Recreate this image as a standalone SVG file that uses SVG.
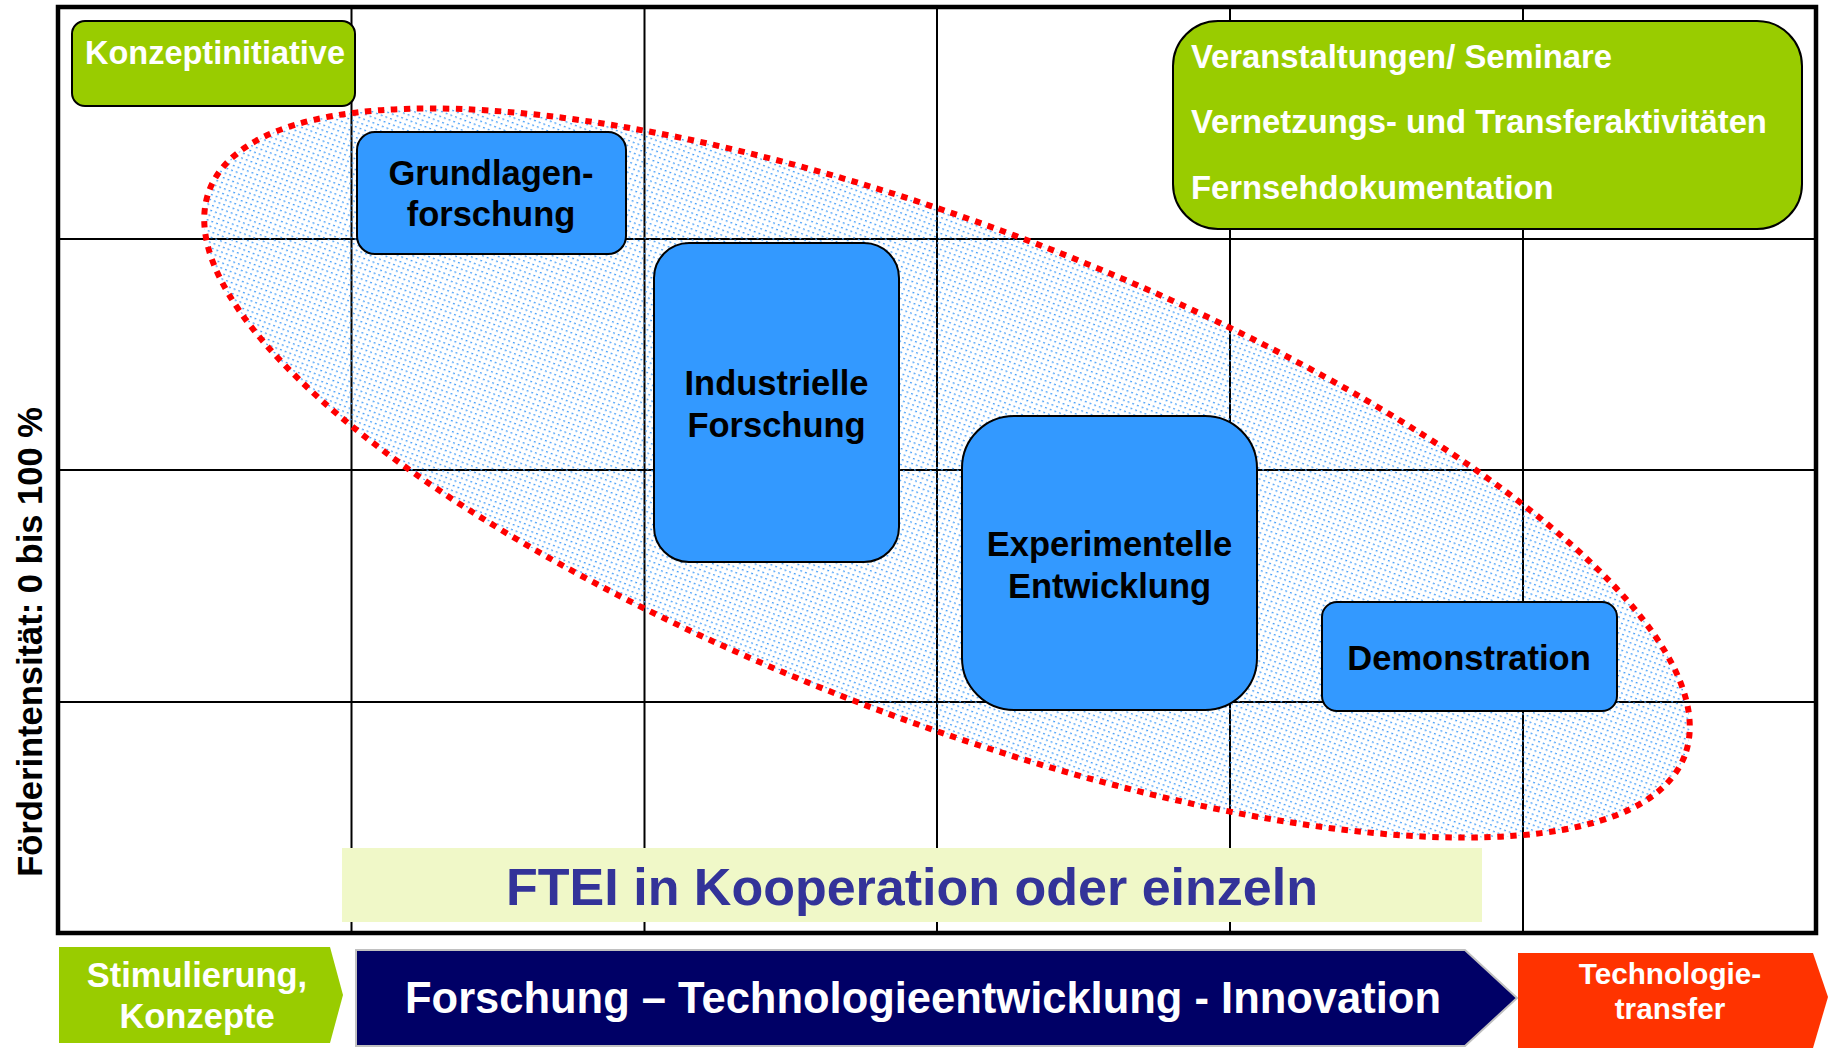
<svg xmlns="http://www.w3.org/2000/svg" width="1829" height="1049" viewBox="0 0 1829 1049">
<defs>
<pattern id="dots" width="5" height="5" patternUnits="userSpaceOnUse">
<rect x="0" y="1" width="2" height="1.3" fill="#4aa0f8"/>
</pattern>
<style>
.grid{stroke:#000;stroke-width:2;fill:none}
.box{fill:#3399ff;stroke:#000;stroke-width:2}
.gbox{fill:#99cc00;stroke:#000;stroke-width:2}
.bt{font-family:"Liberation Sans",Arial,sans-serif;font-weight:bold;font-size:34.5px;fill:#000;text-anchor:middle}
.wt{font-family:"Liberation Sans",Arial,sans-serif;font-weight:bold;fill:#fff}
</style>
</defs>
<rect width="1829" height="1049" fill="#fff"/>
<g id="grid">
<path class="grid" d="M351.5 7V933M644.5 7V933M937 7V933M1230 7V933M1523 7V933M58 239H1816M58 470H1816M58 702H1816"/>
<rect x="58" y="7" width="1758" height="926" fill="none" stroke="#000" stroke-width="4.5"/>
</g>
<g id="ellipse">
<ellipse cx="947" cy="473" rx="790" ry="246" transform="rotate(21 947 473)" fill="url(#dots)" stroke="#ff0000" stroke-width="6" stroke-dasharray="6.5 6.5"/>
</g>
<g id="konzeptinitiative">
<rect class="gbox" x="72" y="21" width="283" height="85" rx="13"/>
<text class="wt" x="85" y="64" font-size="32.5">Konzeptinitiative</text>
</g>
<g id="veranstaltungen">
<rect class="gbox" x="1173" y="21" width="629" height="208" rx="45"/>
<text class="wt" x="1191" y="68" font-size="32.8">Veranstaltungen/ Seminare</text>
<text class="wt" x="1191" y="133" font-size="32.8">Vernetzungs- und Transferaktivitäten</text>
<text class="wt" x="1191" y="199" font-size="32.8">Fernsehdokumentation</text>
</g>
<g id="grundlagenforschung">
<rect class="box" x="357" y="132" width="269" height="122" rx="18"/>
<text class="bt" x="491" y="185">Grundlagen-</text>
<text class="bt" x="491" y="226">forschung</text>
</g>
<g id="industrielle-forschung">
<rect class="box" x="654" y="243" width="245" height="319" rx="35"/>
<text class="bt" x="776.5" y="395">Industrielle</text>
<text class="bt" x="776.5" y="437">Forschung</text>
</g>
<g id="experimentelle-entwicklung">
<rect class="box" x="962" y="416" width="295" height="294" rx="52"/>
<text class="bt" x="1109.5" y="556">Experimentelle</text>
<text class="bt" x="1109.5" y="598">Entwicklung</text>
</g>
<g id="demonstration">
<rect class="box" x="1322" y="602" width="295" height="109" rx="15"/>
<text class="bt" x="1469" y="670">Demonstration</text>
</g>
<g id="ftei">
<rect x="342" y="848" width="1140" height="74" fill="#f0f8c8"/>
<text x="912" y="905" font-family="Liberation Sans,Arial,sans-serif" font-weight="bold" font-size="52" fill="#333399" text-anchor="middle">FTEI in Kooperation oder einzeln</text>
</g>
<g id="y-axis-label">
<text x="0" y="0" transform="translate(42 642) rotate(-90)" font-family="Liberation Sans,Arial,sans-serif" font-weight="bold" font-size="34.5" fill="#000" text-anchor="middle">Förderintensität: 0 bis 100 %</text>
</g>
<g id="stimulierung">
<polygon points="59,947 330,947 343,995 330,1043 59,1043" fill="#99cc00"/>
<text class="wt" x="197" y="987" font-size="34.5" text-anchor="middle">Stimulierung,</text>
<text class="wt" x="197" y="1028" font-size="34.5" text-anchor="middle">Konzepte</text>
</g>
<g id="forschung">
<polygon points="356,950 1465,950 1517,998 1465,1046 356,1046" fill="#000066" stroke="#c0c0c0" stroke-width="2"/>
<text class="wt" x="923" y="1013" font-size="43.5" text-anchor="middle">Forschung – Technologieentwicklung - Innovation</text>
</g>
<g id="technologietransfer">
<polygon points="1518,953 1813,953 1828,997 1813,1048 1518,1048" fill="#ff3300"/>
<text class="wt" x="1670" y="984" font-size="29.7" text-anchor="middle">Technologie-</text>
<text class="wt" x="1670" y="1019" font-size="29.7" text-anchor="middle">transfer</text>
</g>
<g id="connectors"></g>
</svg>
